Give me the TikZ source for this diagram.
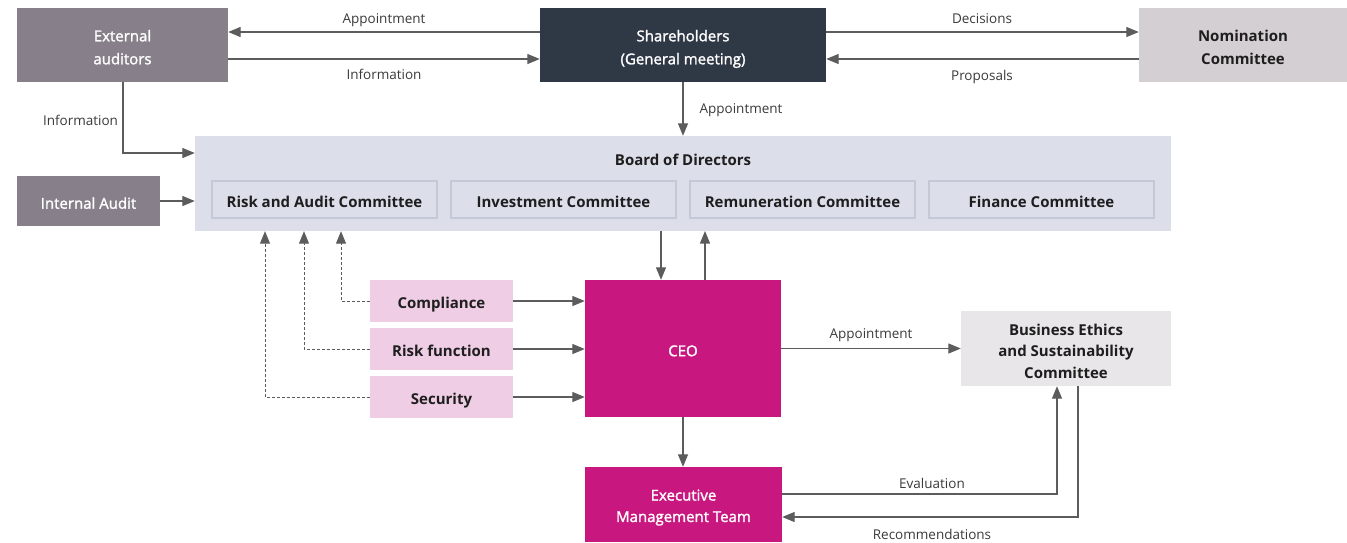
\documentclass[tikz,border=0pt]{standalone}
\usepackage{fontspec}
\setmainfont{Open Sans}
\newfontfamily\medfont{Open Sans}[FakeBold=1.6]
\usetikzlibrary{arrows.meta}
\definecolor{extg}{HTML}{877F8A}
\definecolor{shdark}{HTML}{2F3845}
\definecolor{nomg}{HTML}{D4CFD2}
\definecolor{boardc}{HTML}{DCDEEA}
\definecolor{combord}{HTML}{C4C9D8}
\definecolor{ceoc}{HTML}{C8187F}
\definecolor{pinkc}{HTML}{EFCDE4}
\definecolor{bec}{HTML}{E8E6E8}
\definecolor{linec}{HTML}{5C5C5C}
\definecolor{txtd}{HTML}{1E1E1E}
\definecolor{lblc}{HTML}{3A3A3A}
\newcommand\mlines[2]{\raisebox{#1}[0pt][0pt]{\begin{tabular}{@{}c@{}}#2\end{tabular}}}
\tikzset{
  box/.style={inner sep=0pt, align=center, font=\fontsize{15}{23}\selectfont\medfont},
  bbox/.style={box, font=\fontsize{15}{23}\selectfont\bfseries},
  one/.style={text height=15.4pt, text depth=0pt},
  conn/.style={draw=linec, line width=1.3pt, -{Triangle[length=12.5pt,width=10pt]}},
  dconn/.style={draw=linec, line width=1pt, dash pattern=on 3pt off 2pt, -{Triangle[length=12.5pt,width=10pt]}},
  lbl/.style={font=\fontsize{13.5}{16}\selectfont, text=lblc, inner sep=0pt, text height=9.7pt, text depth=0pt}
}
\begin{document}
\begin{tikzpicture}[x=1pt,y=-1pt]
\useasboundingbox (0,0) rectangle (1347,542);
% top row
\node[box, fill=extg, text=white, minimum width=211pt, minimum height=74pt] (ext) at (122.5,45) {\mlines{-6.8pt}{External\\auditors}};
\node[box, fill=shdark, text=white, minimum width=286pt, minimum height=74pt] (sh) at (683,45) {\mlines{-6.8pt}{Shareholders\\(General meeting)}};
\node[bbox, fill=nomg, text=txtd, minimum width=208pt, minimum height=74pt] (nom) at (1243,45) {\mlines{-6.8pt}{Nomination\\Committee}};
% board
\node[box, fill=boardc, minimum width=976pt, minimum height=95pt] (board) at (683,183.5) {};
\node[bbox, one, text=txtd] (boardt) at (683,157.5) {Board of Directors};
\foreach \n/\cx/\t in {rac/324.5/Risk and Audit Committee, inv/563.5/Investment Committee, rem/802.5/Remuneration Committee, fin/1041.5/Finance Committee}{
  \node[bbox, one, fill=boardc, draw=combord, line width=1.5pt, text=txtd, minimum width=225pt, minimum height=37pt] (\n) at (\cx,199.5) {\t};
}
\node[box, one, fill=extg, text=white, minimum width=143pt, minimum height=50pt] (ia) at (88.5,201) {Internal Audit};
% middle
\node[box, one, fill=ceoc, text=white, minimum width=196pt, minimum height=137pt] (ceo) at (683,348.5) {CEO};
\node[bbox, one, fill=pinkc, text=txtd, minimum width=143pt, minimum height=42pt] (comp) at (441.5,301) {Compliance};
\node[bbox, one, fill=pinkc, text=txtd, minimum width=143pt, minimum height=42pt] (risk) at (441.5,349) {Risk function};
\node[bbox, one, fill=pinkc, text=txtd, minimum width=143pt, minimum height=42pt] (sec) at (441.5,397) {Security};
\node[bbox, fill=bec, text=txtd, minimum width=210pt, minimum height=75pt, font=\fontsize{15}{21.5}\selectfont\bfseries] (be) at (1066,348.5) {\mlines{-7.6pt}{Business Ethics\\and Sustainability\\Committee}};
\node[box, fill=ceoc, text=white, minimum width=197pt, minimum height=75pt, font=\fontsize{15}{21.4}\selectfont\medfont] (emt) at (683.5,504.5) {\mlines{-6.1pt}{Executive\\Management Team}};
% connectors top
\draw[conn] (sh.west |- 0,32) -- (ext.east |- 0,32);
\node[lbl] (l1) at (384,18.3) {Appointment};
\draw[conn] (ext.east |- 0,59) -- (sh.west |- 0,59);
\node[lbl] (l2) at (384,75) {Information};
\draw[conn] (sh.east |- 0,32) -- (nom.west |- 0,32);
\node[lbl] (l3) at (982,18.3) {Decisions};
\draw[conn] (nom.west |- 0,59) -- (sh.east |- 0,59);
\node[lbl] (l4) at (982,75.5) {Proposals};
\draw[conn] (sh.south) -- (board.north);
\node[lbl] (l5) at (741,108.7) {Appointment};
\coordinate (c1) at (123,153);
\draw[conn] (ext.south -| c1) -- (c1) -- (board.west |- c1);
\node[lbl] (l6) at (80.5,120.5) {Information};
\draw[conn] (ia.east) -- (board.west |- ia.east);
% board <-> CEO
\draw[conn] (661,231) -- (ceo.north -| 661,0);
\draw[conn] (ceo.north -| 705,0) -- (705,231);
% functions to CEO
\draw[conn] (comp.east) -- (ceo.west |- comp.east);
\draw[conn] (risk.east) -- (ceo.west |- risk.east);
\draw[conn] (sec.east) -- (ceo.west |- sec.east);
% dashed
\coordinate (d1) at (341,301);
\coordinate (d2) at (304,349);
\coordinate (d3) at (265,397);
\draw[dconn] (comp.west) -- (d1) -- (d1 |- board.south);
\draw[dconn] (risk.west) -- (d2) -- (d2 |- board.south);
\draw[dconn] (sec.west) -- (d3) -- (d3 |- board.south);
% CEO to BE and EMT
\draw[conn] (ceo.east |- be.west) -- (be.west);
\node[lbl] (l7) at (871,333.3) {Appointment};
\draw[conn] (ceo.south) -- (ceo.south |- emt.north);
\coordinate (e1) at (1057,494);
\coordinate (r1) at (1078,517);
\draw[conn] (emt.east |- e1) -- (e1) -- (e1 |- be.south);
\draw[conn] (r1 |- be.south) -- (r1) -- (emt.east |- r1);
\node[lbl] (l8) at (932,483.7) {Evaluation};
\node[lbl] (l9) at (932,534.3) {Recommendations};
\end{tikzpicture}
\end{document}
